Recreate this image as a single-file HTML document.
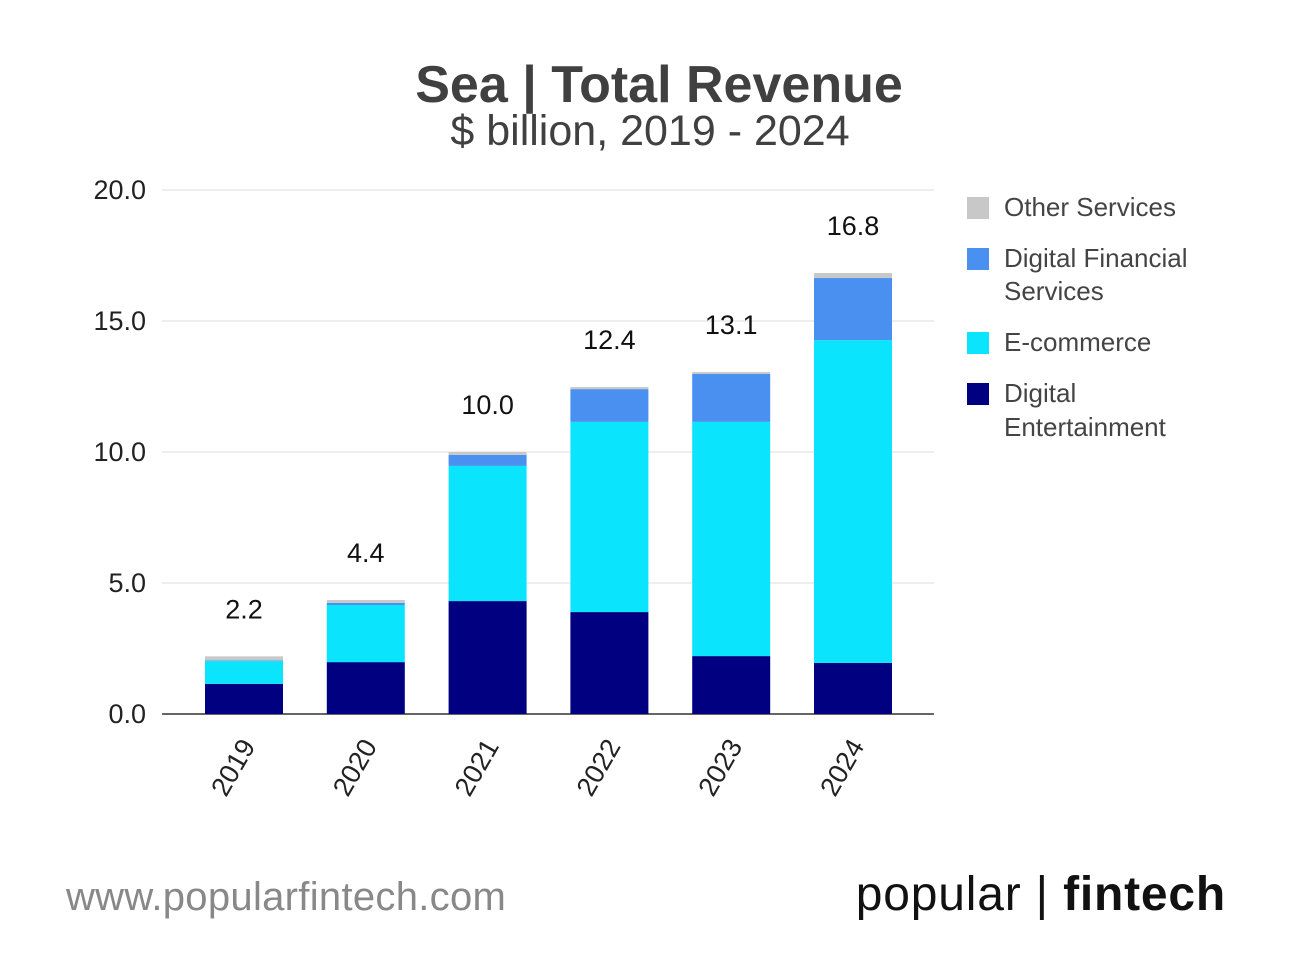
<!DOCTYPE html>
<html><head><meta charset="utf-8"><style>
body{margin:0;background:#fff;font-family:"Liberation Sans",sans-serif}
svg{display:block}
</style></head><body>
<svg id="chart" width="1292" height="960" xmlns="http://www.w3.org/2000/svg">
<text x="659" y="102" text-anchor="middle" font-size="52" font-weight="bold" fill="#404040">Sea | Total Revenue</text>
<text x="650" y="145" text-anchor="middle" font-size="43" fill="#404040">$ billion, 2019 - 2024</text>
<g id="grid"></g><g id="bars"></g><g id="labels"></g>
<g font-size="26" fill="#444">
<rect x="967" y="197" width="22" height="22" fill="#c8c8c8"/>
<text x="1004" y="216">Other Services</text>
<rect x="967" y="248" width="22" height="22" fill="#4a90f0"/>
<text x="1004" y="267">Digital Financial</text>
<text x="1004" y="300">Services</text>
<rect x="967" y="332" width="22" height="22" fill="#0be4fd"/>
<text x="1004" y="351">E-commerce</text>
<rect x="967" y="383" width="22" height="22" fill="#000080"/>
<text x="1004" y="402">Digital</text>
<text x="1004" y="436">Entertainment</text>
</g>
<text x="66" y="910" font-size="40" letter-spacing="0.3" fill="#888">www.popularfintech.com</text>
<text x="1226" y="910" text-anchor="end" font-size="48" letter-spacing="0.8" fill="#111">popular | <tspan font-weight="bold">fintech</tspan></text>
</svg>
<script>
const years=["2019","2020","2021","2022","2023","2024"];
const digitalEnt=[1.15,1.98,4.31,3.89,2.21,1.95];
const ecommerce=[0.87,2.18,5.16,7.26,8.94,12.32];
const dfs=[0.02,0.08,0.42,1.25,1.83,2.37];
const other=[0.16,0.11,0.11,0.08,0.07,0.19];
const totals=["2.2","4.4","10.0","12.4","13.1","16.8"];
const ticks=[0,5,10,15,20];
const NS="http://www.w3.org/2000/svg";
const y=v=>714-v*26.2, x=i=>244+i*121.8, bw=78;
function mk(t,a,p){const e=document.createElementNS(NS,t);for(const k in a)e.setAttribute(k,a[k]);p.appendChild(e);return e;}
const g=document.getElementById('grid');
ticks.forEach(t=>{
 const l=mk('line',{x1:162,x2:934,y1:y(t),y2:y(t),stroke:t?'#ddd':'#333','stroke-width':t?1:1.5},g);
 
 
 const tx=mk('text',{x:146,y:y(t)+9,'text-anchor':'end','font-size':27,fill:'#222'},g);
 tx.textContent=t.toFixed(1);
 
 
});
const b=document.getElementById('bars'),lb=document.getElementById('labels');
const series=[[digitalEnt,'#000080'],[ecommerce,'#0be4fd'],[dfs,'#4a90f0'],[other,'#c8c8c8']];
years.forEach((yr,i)=>{
 let base=0;
 series.forEach(([arr,c])=>{
  const r=mk('rect',{x:x(i)-bw/2,y:y(base+arr[i]),width:bw,height:arr[i]*26.2,fill:c},b);
  
  
  base+=arr[i];
 });
 const t=mk('text',{x:x(i),y:y(base)-38,'text-anchor':'middle','font-size':27,fill:'#111'},lb);
 t.textContent=totals[i];
 
 
 const xt=mk('text',{x:x(i)+12,y:746,'text-anchor':'end','font-size':27,fill:'#222',transform:`rotate(-60 ${x(i)+12} 746)`},lb);
 xt.textContent=yr;
 
 
});
</script>
</body></html>
